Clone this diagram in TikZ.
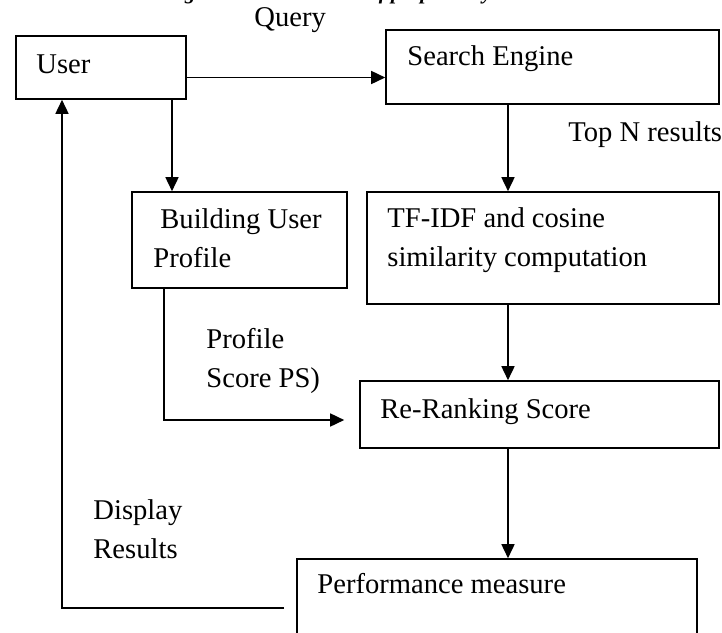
\documentclass[tikz,border=0pt]{standalone}
\usepackage{fontspec}
\setmainfont{Liberation Serif}
\usetikzlibrary{arrows.meta,fit}
\tikzset{
  box/.style={draw, line width=0.8pt, inner sep=0pt},
  lbl/.style={inner sep=0pt, anchor=base west, align=left, font=\fontsize{14.3}{19.5}\selectfont},
  arr/.style={-{Triangle[length=7pt,width=6.5pt]}, line width=0.8pt},
}
\begin{document}
\begin{tikzpicture}[x=0.5pt, y=-0.5pt]
\useasboundingbox (0,0) rectangle (722,632);
\fill[white] (0,0) rectangle (722,632);
\begin{scope}
\clip (0,0) rectangle (722,632);
% caption, only its lower edge lies on the page
\node[inner sep=0pt, anchor=base west, font=\fontsize{10.5}{12}\selectfont\bfseries\itshape] (cap) at (165,-1) {Figure 1: Architecture of proposed system};
% boxes
\node[box, fit={(16,36) (186,99)}] (user) {};
\node[box, fit={(386,30) (719,104)}] (engine) {};
\node[box, fit={(132,192) (347,288)}] (profile) {};
\node[box, fit={(367,192) (719,304)}] (tfidf) {};
\node[box, fit={(360,381) (719,448)}] (rerank) {};
\node[box, fit={(297,559) (697,660)}] (perf) {};
% texts (two-line ones sit on the baseline of their last line)
\node[lbl] (tuser) at (36,73) {User};
\node[lbl] (tengine) at (407,65) {Search Engine};
\node[lbl] (tprofile) at (153,267) {\hspace*{3.5pt}Building User\\Profile};
\node[lbl] (ttfidf) at (387,266) {TF-IDF and cosine\\similarity computation};
\node[lbl] (trerank) at (380,418) {Re-Ranking Score};
\node[lbl] (tperf) at (317,593) {Performance measure};
% labels on the connectors
\node[lbl] (query) at (254,26) {Query};
\node[lbl] (topn) at (568,141) {Top N results};
\node[lbl] (ps) at (206,387) {Profile\\Score PS)};
\node[lbl] (disp) at (93,558) {Display\\Results};
% columns of the vertical connectors
\coordinate (cuser) at (172,0);
\coordinate (cmid) at (508,0);
\coordinate (cps) at (164,0);
\coordinate (cdisp) at (62,0);
% connectors
\draw[arr] ([yshift=-5pt]user.east) -- ([yshift=-5pt]user.east -| engine.west);
\draw[arr] (user.south -| cuser) -- (profile.north -| cuser);
\draw[arr] (engine.south -| cmid) -- (tfidf.north -| cmid);
\draw[arr] (tfidf.south -| cmid) -- (rerank.north -| cmid);
\draw[arr] (rerank.south -| cmid) -- (perf.north -| cmid);
\draw[arr, shorten >=7.5pt] (profile.south -| cps) |- ([yshift=-2.75pt]rerank.west);
\draw[arr, shorten <=6pt] ([yshift=0.75pt]perf.west) -| (user.south -| cdisp);
\end{scope}
\end{tikzpicture}
\end{document}
